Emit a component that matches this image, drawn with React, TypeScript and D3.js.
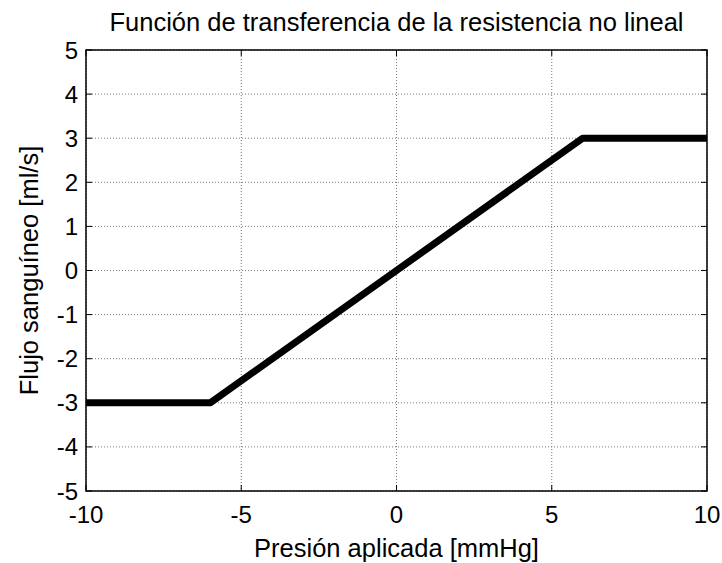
import React from "react";
import * as d3 from "d3";

const xData = [-10, -6, 6, 10];
const yData = [-3, -3, 3, 3];
const xTicks = [-10, -5, 0, 5, 10];
const yTicks = [-5, -4, -3, -2, -1, 0, 1, 2, 3, 4, 5];
const title = "Función de transferencia de la resistencia no lineal";
const xLabel = "Presión aplicada [mmHg]";
const yLabel = "Flujo sanguíneo [ml/s]";

export default function App() {
  const W = 722, H = 563;
  const L = 86, R = 707, T = 50, B = 491;
  const x = d3.scaleLinear().domain([-10, 10]).range([L, R]);
  const y = d3.scaleLinear().domain([-5, 5]).range([B, T]);
  const line = d3.line<number>().x((d) => x(xData[d])).y((d) => y(yData[d]));
  const font = "'Liberation Sans', Arial, sans-serif";
  const fs = 24;
  const fl = 25.5;
  return (
    <svg width={W} height={H} style={{ position: "absolute", left: 0, top: 0, background: "#fff" }} fontFamily={font}>
      <rect x={0} y={0} width={W} height={H} fill="#fff" />
      {xTicks.map((t) => (
        <line key={"gx" + t} x1={x(t)} x2={x(t)} y1={T} y2={B} stroke="#777" strokeWidth={1} strokeDasharray="1,2" />
      ))}
      {yTicks.map((t) => (
        <line key={"gy" + t} x1={L} x2={R} y1={y(t)} y2={y(t)} stroke="#777" strokeWidth={1} strokeDasharray="1,2" />
      ))}
      <path d={line(d3.range(xData.length)) || ""} fill="none" stroke="#000" strokeWidth={7} strokeLinejoin="round" />
      <rect x={L} y={T} width={R - L} height={B - T} fill="none" stroke="#000" strokeWidth={1.5} />
      {xTicks.map((t) => (
        <g key={"tx" + t}>
          <line x1={x(t)} x2={x(t)} y1={B} y2={B - 6} stroke="#000" />
          <line x1={x(t)} x2={x(t)} y1={T} y2={T + 6} stroke="#000" />
          <text x={x(t)} y={B + 32} textAnchor="middle" fontSize={fs}>{t}</text>
        </g>
      ))}
      {yTicks.map((t) => (
        <g key={"ty" + t}>
          <line x1={L} x2={L + 6} y1={y(t)} y2={y(t)} stroke="#000" />
          <line x1={R} x2={R - 6} y1={y(t)} y2={y(t)} stroke="#000" />
          <text x={L - 8} y={y(t) + 8.5} textAnchor="end" fontSize={fs}>{t}</text>
        </g>
      ))}
      <text x={(L + R) / 2} y={31} textAnchor="middle" fontSize={fl}>{title}</text>
      <text x={(L + R) / 2} y={557} textAnchor="middle" fontSize={fl}>{xLabel}</text>
      <text transform={`translate(38,${(T + B) / 2}) rotate(-90)`} textAnchor="middle" fontSize={fl}>{yLabel}</text>
    </svg>
  );
}
